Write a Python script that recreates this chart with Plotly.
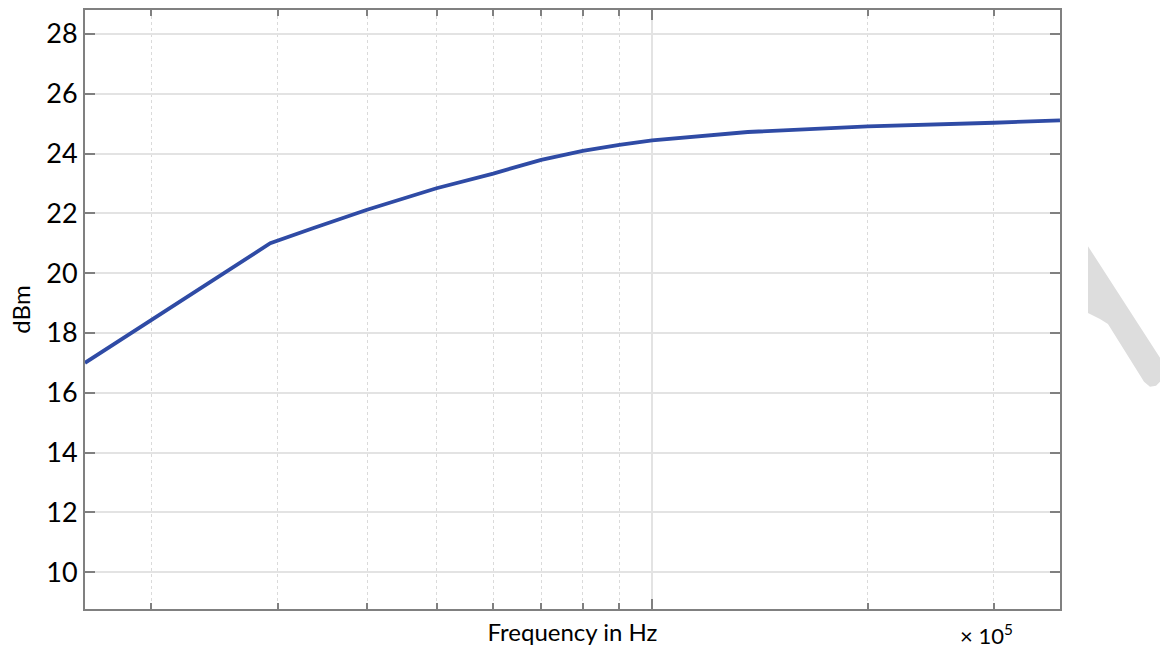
import plotly.graph_objects as go

# Data (frequency in Hz, level in dBm)
freq_hz = [16150, 29300, 33600, 40000, 50000, 60000, 70000, 80000, 90000,
           100000, 136000, 200000, 300000, 371000]
level_dbm = [17.0, 21.0, 21.5, 22.12, 22.84, 23.33, 23.79, 24.09, 24.29,
             24.44, 24.72, 24.91, 25.03, 25.11]

y_ticks = [10, 12, 14, 16, 18, 20, 22, 24, 26, 28]
x_major = [100000]
x_minor = [20000, 30000, 40000, 50000, 60000, 70000, 80000, 90000, 200000, 300000]

FONT = "Lato"
fig = go.Figure()
fig.add_trace(go.Scatter(x=freq_hz, y=level_dbm, mode="lines",
                         line=dict(color="#2f4ba5", width=3.8), showlegend=False))

fig.update_layout(
    width=1160, height=650,
    margin=dict(l=85, r=100, t=8, b=41),
    paper_bgcolor="white", plot_bgcolor="white",
    font=dict(family=FONT, color="black"),
    xaxis=dict(
        type="log",
        range=[4.2082, 5.5694],
        tickvals=x_major, showticklabels=False,
        ticks="inside", ticklen=10, tickwidth=2, tickcolor="#808080",
        showline=True, linecolor="#808080", linewidth=2, mirror="ticks",
        showgrid=True, gridcolor="#e3e3e3", gridwidth=2,
        zeroline=False,
        minor=dict(tickvals=x_minor, ticks="inside", ticklen=6, tickwidth=1.5,
                   tickcolor="#808080", showgrid=True, gridcolor="#dadada",
                   griddash="dot", gridwidth=1),
        title=dict(text="Frequency in Hz", font=dict(size=24, family=FONT), standoff=14),
    ),
    yaxis=dict(
        range=[8.77, 28.8],
        tickvals=y_ticks,
        ticks="inside", ticklen=10, tickwidth=2, tickcolor="#808080",
        showline=True, linecolor="#808080", linewidth=2, mirror="ticks",
        showgrid=True, gridcolor="#e3e3e3", gridwidth=2,
        zeroline=False,
        tickfont=dict(size=27, family=FONT),
        title=dict(text="dBm", font=dict(size=24, family=FONT), standoff=9),
    ),
)

fig.add_annotation(x=(986 - 85) / 975, y=-(26 / 601), xref="paper", yref="paper",
                   text="× 10<sup>5</sup>", showarrow=False, xanchor="center",
                   yanchor="middle", font=dict(size=22, family=FONT))

# light grey decorative slash at the right edge
def px(x, y):
    return ((x - 85) / 975, (609 - y) / 601)

pts = [(1088, 245), (1088, 312), (1100, 318), (1108, 323), (1144, 381),
       (1150, 386), (1156, 385), (1160, 381), (1160, 357)]
path = "M " + " L ".join(f"{px(a, b)[0]:.4f},{px(a, b)[1]:.4f}" for a, b in pts) + " Z"
fig.add_shape(type="path", path=path, xref="paper", yref="paper",
              fillcolor="#dddddd", line=dict(width=0), layer="above")

fig.write_html("out.html")
